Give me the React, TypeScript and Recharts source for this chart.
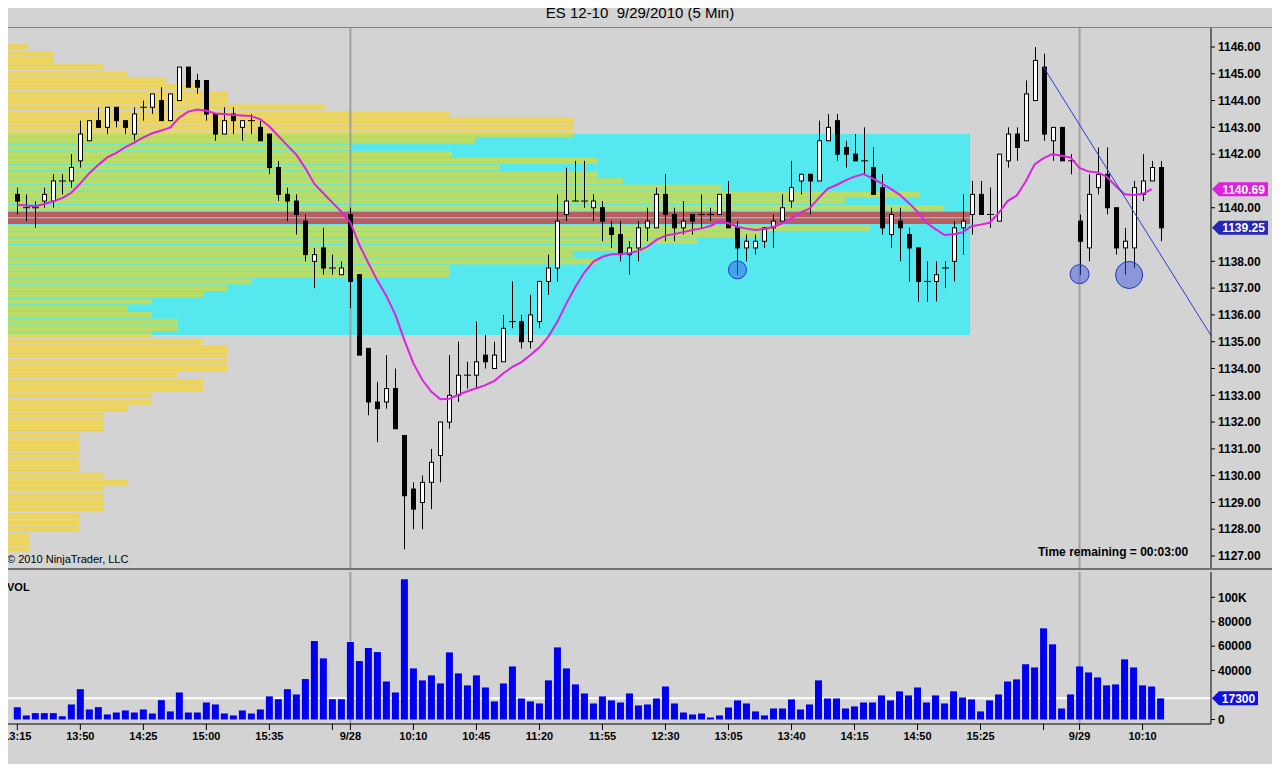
import React from 'react';
import {
  ComposedChart,
  Bar,
  Line,
  XAxis,
  YAxis,
  ReferenceArea,
  ReferenceLine,
  ReferenceDot,
} from 'recharts';

// ES 12-10, 5 min bars: 9/27 13:15 .. 9/29 10:20 (bar index 0..127)
const opens = [
  1140.5, 1140, 1140, 1140.25, 1140.25, 1141, 1141, 1141.75, 1142.5, 1143.25,
  1143, 1143.75, 1143.25, 1142.75, 1143.75, 1143.75, 1144, 1143.25, 1144, 1145.25,
  1144.75, 1144.75, 1143.5, 1142.75, 1143.5, 1143, 1143.25, 1143, 1142.75, 1141.5,
  1140.5, 1140.25, 1139.5, 1138, 1138.5, 1137.75, 1137.5, 1139.75, 1137.5, 1134.75,
  1132.75, 1132.75, 1133.25, 1131.5, 1129.5, 1129, 1129.75, 1130.75, 1132, 1133,
  1133.75, 1133.75, 1134.5, 1134, 1134.25, 1135.75, 1135.75, 1135, 1135.75, 1137.25,
  1137.75, 1139.75, 1140.25, 1140.25, 1140, 1140, 1139.25, 1139, 1138.25, 1138.5,
  1139.25, 1139.25, 1140.5, 1139.75, 1139.25, 1139.75, 1139.75, 1139.75, 1139.75, 1140.5,
  1139.25, 1138.5, 1138.5, 1138.75, 1139.25, 1139.5, 1140.25, 1141, 1141.25, 1141,
  1142.5, 1143.25, 1142.25, 1142, 1141.75, 1141.5, 1140.75, 1139, 1139.5, 1139,
  1138.5, 1137.25, 1137.25, 1137.75, 1138, 1139.25, 1139.75, 1140.5, 1139.75, 1139.5,
  1141.75, 1142.75, 1142.5, 1144, 1145.25, 1142.5, 1143, 1141.75, 1139.5, 1138.5,
  1140.75, 1141.25, 1140, 1138.5, 1138.5, 1140.5, 1141, 1141.5,
];
const highs = [
  1140.75, 1140.5, 1140.25, 1140.75, 1141.25, 1141.25, 1142, 1143.25, 1143.25, 1143.75,
  1143.75, 1143.75, 1143.25, 1143.75, 1144, 1144.25, 1144.5, 1144.25, 1145.25, 1145.25,
  1145, 1144.75, 1143.5, 1143.75, 1143.75, 1143.25, 1143.5, 1143.25, 1142.75, 1141.75,
  1140.75, 1140.5, 1139.75, 1138.5, 1139.25, 1138.25, 1138, 1140, 1137.5, 1134.75,
  1133.5, 1134.5, 1134, 1131.5, 1129.75, 1130, 1131, 1132, 1134.5, 1135,
  1134.25, 1135.75, 1135.25, 1135, 1136, 1137.25, 1136, 1136.75, 1137.25, 1138.25,
  1140.5, 1141.5, 1141.75, 1141.75, 1140.5, 1140.25, 1139.5, 1139.5, 1138.75, 1139.5,
  1140, 1140.75, 1141.25, 1140, 1140.25, 1139.75, 1140.5, 1140, 1140.5, 1141,
  1139.5, 1139, 1139, 1139.25, 1139.75, 1140.5, 1141.75, 1141.25, 1141.25, 1143.25,
  1143.5, 1143.5, 1142.5, 1142.75, 1143, 1142.25, 1141.25, 1140, 1140, 1139.25,
  1138.5, 1138, 1138, 1138, 1139.5, 1140.5, 1141, 1141, 1140.75, 1142,
  1143, 1143, 1144.75, 1146, 1145.75, 1143, 1143, 1142, 1139.75, 1141.25,
  1142.25, 1142.25, 1140, 1139.25, 1141, 1142, 1141.75, 1141.75,
];
const lows = [
  1139.75, 1139.5, 1139.25, 1140, 1140, 1140.5, 1140.75, 1141.5, 1142.5, 1143,
  1142.75, 1143, 1142.75, 1142.5, 1143.25, 1143.5, 1143.25, 1143.25, 1144, 1144.5,
  1144.25, 1143.25, 1142.5, 1142.75, 1142.75, 1142.5, 1142.75, 1142.5, 1141.25, 1140.25,
  1139.5, 1139, 1138, 1137, 1137.5, 1137.5, 1137.5, 1136.25, 1134.5, 1132.25,
  1131.25, 1132.5, 1131.75, 1127.25, 1128, 1128, 1128.75, 1129.75, 1131.75, 1132.75,
  1133.25, 1133.25, 1134, 1134, 1134.25, 1135.5, 1134.75, 1134.75, 1135.5, 1136.75,
  1137.25, 1139.5, 1140.25, 1140, 1139.5, 1138.75, 1138.5, 1138, 1137.5, 1138,
  1138.75, 1139.25, 1138.75, 1138.75, 1139, 1139, 1139.25, 1139.5, 1139.75, 1139.25,
  1137.5, 1138, 1138.25, 1138.5, 1138.5, 1139.5, 1140, 1140.5, 1139.75, 1141,
  1142.5, 1141.75, 1141.5, 1141.75, 1141.25, 1140.5, 1139, 1138.5, 1138, 1137.25,
  1136.5, 1136.5, 1136.5, 1137, 1137.25, 1138.25, 1139, 1139.75, 1139.25, 1139.5,
  1141.5, 1141.75, 1142.5, 1144, 1142.5, 1141.75, 1141.75, 1141.25, 1137.5, 1138,
  1140.5, 1139.75, 1138.25, 1137.5, 1137.75, 1140.25, 1141, 1138.75,
];
const closes = [
  1140.25, 1140, 1140, 1140.5, 1141, 1141, 1141.5, 1142.75, 1143.25, 1143,
  1143.75, 1143.25, 1143, 1143.5, 1143.75, 1144.25, 1143.25, 1144.25, 1145.25, 1144.5,
  1144.5, 1143.5, 1142.75, 1143.25, 1143.25, 1143.25, 1143.25, 1142.5, 1141.5, 1140.5,
  1140.25, 1139.75, 1138.25, 1138.25, 1137.75, 1137.75, 1137.75, 1137.25, 1134.5, 1132.75,
  1132.5, 1133.25, 1131.75, 1129.25, 1128.75, 1129.75, 1130.5, 1132, 1133, 1133.75,
  1133.75, 1134.25, 1134.25, 1134.5, 1135.5, 1135.75, 1135, 1136, 1137.25, 1137.75,
  1139.5, 1140.25, 1140.25, 1140.25, 1140.25, 1139.5, 1139, 1138.25, 1138.5, 1139.25,
  1139.5, 1140.5, 1139.75, 1139.25, 1139.5, 1139.5, 1139.75, 1139.75, 1140.5, 1139.25,
  1138.5, 1138.75, 1138.75, 1139.25, 1139.5, 1140, 1140.75, 1141.25, 1141, 1142.5,
  1143, 1142, 1142, 1141.75, 1141.75, 1140.5, 1139.25, 1139.75, 1139.25, 1138.5,
  1137.25, 1137.25, 1137.5, 1137.75, 1139.25, 1139.5, 1140.5, 1139.75, 1139.75, 1142,
  1142.75, 1142.25, 1144.25, 1145.5, 1142.75, 1143, 1141.75, 1141.75, 1138.75, 1140.5,
  1141.25, 1140, 1138.5, 1138.75, 1140.75, 1141, 1141.5, 1139.25,
];
const volumes = [
  10100, 3300, 5200, 5200, 5200, 2700, 12300, 24800, 8200, 10100,
  4100, 5700, 7400, 5700, 8200, 4900, 15800, 6600, 22100, 5700,
  5700, 13900, 12300, 4900, 3300, 7400, 4900, 8200, 18900, 16600,
  24800, 20500, 33100, 64200, 50000, 16600, 16600, 63400, 47800, 58500,
  55200, 31100, 22100, 114800, 41800, 32000, 36100, 29500, 54900, 37700,
  27900, 36100, 26200, 14800, 29500, 43400, 17200, 14800, 13100, 32000,
  59000, 41800, 28700, 21300, 13100, 18900, 15600, 13900, 21300, 11500,
  12300, 17200, 27000, 13100, 5700, 4100, 4900, 1600, 3300, 9800,
  15600, 13100, 6600, 3300, 9000, 9000, 16400, 8200, 12300, 32000,
  17200, 17200, 9000, 10700, 13900, 13900, 19700, 15600, 23000, 19700,
  26200, 13900, 19700, 13100, 23000, 18000, 16400, 6600, 15600, 20500,
  31100, 32800, 45100, 42600, 74600, 61500, 9000, 20500, 43400, 38500,
  34400, 27900, 28700, 49200, 42600, 27900, 27000, 17300,
];
// magenta moving average as drawn (the open bar has no value yet)
const average = [
  1140.11, 1140.08, 1140.06, 1140.14, 1140.24, 1140.36, 1140.56, 1140.91, 1141.29, 1141.6,
  1141.88, 1142.05, 1142.26, 1142.43, 1142.63, 1142.78, 1142.88, 1143.0, 1143.37, 1143.59,
  1143.67, 1143.62, 1143.52, 1143.5, 1143.46, 1143.44, 1143.42, 1143.3, 1143.03, 1142.68,
  1142.32, 1141.98, 1141.47, 1140.89, 1140.54, 1140.19, 1139.85, 1139.45, 1138.61, 1137.93,
  1137.28, 1136.71, 1136.0, 1135.06, 1134.19, 1133.57, 1133.13, 1132.85, 1132.87, 1133.02,
  1133.15, 1133.26, 1133.38, 1133.54, 1133.82, 1134.06, 1134.24, 1134.5, 1134.79, 1135.19,
  1135.75, 1136.43, 1137.05, 1137.59, 1137.99, 1138.17, 1138.26, 1138.27, 1138.3, 1138.39,
  1138.55, 1138.8, 1138.96, 1139.02, 1139.09, 1139.17, 1139.23, 1139.32, 1139.5, 1139.42,
  1139.29, 1139.22, 1139.17, 1139.21, 1139.29, 1139.42, 1139.61, 1139.82, 1139.97, 1140.35,
  1140.71, 1140.85, 1141.02, 1141.16, 1141.26, 1141.1, 1140.91, 1140.71, 1140.49, 1140.19,
  1139.85, 1139.44, 1139.2, 1138.98, 1139.01, 1139.08, 1139.31, 1139.37, 1139.44, 1139.8,
  1140.25, 1140.45, 1140.97, 1141.62, 1141.85, 1142.0, 1141.94, 1141.87, 1141.49, 1141.35,
  1141.32, 1141.16, 1140.82, 1140.5, 1140.48, 1140.52, 1140.69, null,
];

const timeTicks = [0, 7, 14, 21, 28, 35, 37, 44, 51, 58, 65, 72, 79, 86, 93, 100, 107, 114, 118, 125];
const timeLabels = [
  '13:15', '13:50', '14:25', '15:00', '15:35', '', '9/28', '10:10', '10:45', '11:20',
  '11:55', '12:30', '13:05', '13:40', '14:15', '14:50', '15:25', '', '9/29', '10:10',
];
const sessionStarts = [37, 118];

// 1141 and 1139 sit under the value tags
const priceTicks = [
  1127, 1128, 1129, 1130, 1131, 1132, 1133, 1134, 1135, 1136,
  1137, 1138, 1140, 1142, 1143, 1144, 1145, 1146,
];
const volumeTicks = [0, 40000, 60000, 80000, 100000];

// volume at price, one row per tick (hundreds of contracts)
const profileLevels = [
  1146, 1145.75, 1145.5, 1145.25, 1145, 1144.75, 1144.5, 1144.25, 1144, 1143.75,
  1143.5, 1143.25, 1143, 1142.75, 1142.5, 1142.25, 1142, 1141.75, 1141.5, 1141.25,
  1141, 1140.75, 1140.5, 1140.25, 1140, 1139.75, 1139.5, 1139.25, 1139, 1138.75,
  1138.5, 1138.25, 1138, 1137.75, 1137.5, 1137.25, 1137, 1136.75, 1136.5, 1136.25,
  1136, 1135.75, 1135.5, 1135.25, 1135, 1134.75, 1134.5, 1134.25, 1134, 1133.75,
  1133.5, 1133.25, 1133, 1132.75, 1132.5, 1132.25, 1132, 1131.75, 1131.5, 1131.25,
  1131, 1130.75, 1130.5, 1130.25, 1130, 1129.75, 1129.5, 1129.25, 1129, 1128.75,
  1128.5, 1128.25, 1128, 1127.75, 1127.5, 1127.25,
];
const profileVolume = [
  23, 49, 49, 98, 123, 160, 195, 223, 223, 320,
  445, 569, 569, 569, 470, 347, 447, 593, 495, 593,
  618, 717, 915, 840, 938, 965, 965, 865, 755, 693,
  643, 568, 592, 445, 445, 247, 222, 198, 147, 123,
  147, 173, 173, 147, 198, 222, 222, 222, 222, 173,
  198, 198, 147, 147, 123, 99, 99, 99, 74, 74,
  74, 74, 74, 74, 99, 123, 99, 99, 99, 99,
  74, 74, 74, 24, 24, 24,
];
const pocLevels = [1139.75, 1139.5];
const valueAreaHigh = 1142.75;
const valueAreaLow = 1135.25;
const valueAreaBars = [-1.37, 105.85];

const trendLine = [
  { x: 114, y: 1145.25 },
  { x: 132.6, y: 1135.23 },
];
const markerBars = [80, 118, 123.5];
const markerPrices = [1137.68, 1137.52, 1137.49];
const markerSizes = [9, 9.5, 13.5];

const lastAverage = 1140.69;
const lastPrice = 1139.25;
const lastVolume = 17300;

const X_DOMAIN = [-1.59, 132.6];
const PRICE_DOMAIN = [1126.553, 1146.709];
const VOL_DOMAIN = [-3700, 120700];
const PROFILE_DOMAIN = [-2, 1206];

const FONT = '"Liberation Sans", Arial, Helvetica, sans-serif';
const BG = '#D3D3D3';
const valueTick = { fill: '#000', fontSize: 12, fontWeight: 'bold', fontFamily: FONT };

const bars = opens.map((o, i) => ({
  i,
  open: o,
  high: highs[i],
  low: lows[i],
  close: closes[i],
  range: [lows[i], highs[i]],
  avg: average[i],
  vol: volumes[i],
}));

const Candle = (props: any) => {
  const { x, y, width, height, payload } = props;
  if (!payload) return null;
  const top = Math.min(y, y + height);
  const bottom = Math.max(y, y + height);
  const span = payload.high - payload.low;
  const toY = (v: number) => (span > 0 ? top + ((payload.high - v) / span) * (bottom - top) : top);
  const cx = Math.round(x + width / 2) + 0.5;
  const yo = toY(payload.open);
  const yc = toY(payload.close);
  const up = payload.close >= payload.open;
  const bodyTop = Math.min(yo, yc);
  const bodyH = Math.abs(yc - yo);
  return (
    <g>
      <line x1={cx} x2={cx} y1={top} y2={bottom} stroke="#000" strokeWidth={1} />
      {bodyH < 1 ? (
        <line x1={cx - 3.5} x2={cx + 3.5} y1={yo} y2={yo} stroke="#000" strokeWidth={1} />
      ) : (
        <rect x={cx - 2} y={bodyTop} width={4} height={bodyH} fill={up ? '#fff' : '#000'} stroke="#000" strokeWidth={1} />
      )}
    </g>
  );
};

const TimeTick = (props: any) => {
  const { x, y, payload } = props;
  const label = timeLabels[timeTicks.indexOf(payload.value)] ?? '';
  if (!label) return null;
  return (
    <text
      x={x}
      y={y}
      dy="0.71em"
      textAnchor="middle"
      fill="#000"
      fontSize={11}
      fontWeight="bold"
      fontFamily={FONT}
    >
      {label}
    </text>
  );
};

// value tag on the right axis
const AxisTag = ({ viewBox, text, fill, w }: any) => {
  if (!viewBox) return null;
  const x0 = viewBox.x + viewBox.width;
  const yy = viewBox.y;
  return (
    <g>
      <polygon
        points={`${x0 + 1},${yy} ${x0 + 8},${yy - 7} ${x0 + w},${yy - 7} ${x0 + w},${yy + 7} ${x0 + 8},${yy + 7}`}
        fill={fill}
      />
      <text
        x={x0 + 8 + (w - 8) / 2}
        y={yy}
        dy="0.36em"
        textAnchor="middle"
        fill="#fff"
        fontSize={12}
        fontWeight="bold"
        fontFamily={FONT}
      >
        {text}
      </text>
    </g>
  );
};

const rule = (top: number, left: number, width: number, height: number, color: string) => (
  <div style={{ position: 'absolute', top, left, width, height, background: color }} />
);

export default function App() {
  return (
    <div
      style={{
        position: 'relative',
        width: 1280,
        height: 772,
        margin: -8,
        background: BG,
        overflow: 'hidden',
        fontFamily: FONT,
      }}
    >
      <div
        style={{
          position: 'absolute',
          top: 4,
          left: 0,
          width: 1280,
          textAlign: 'center',
          fontSize: 15,
          lineHeight: '17px',
          whiteSpace: 'pre',
          color: '#000',
        }}
      >
        {'ES 12-10  9/29/2010 (5 Min)'}
      </div>

      {/* price panel */}
      <div style={{ position: 'absolute', top: 0, left: 0 }}>
        <ComposedChart width={1280} height={572} data={bars} margin={{ top: 28, right: 0, bottom: 4, left: 3 }}>
          <XAxis xAxisId="t" type="number" dataKey="i" domain={X_DOMAIN} allowDataOverflow hide />
          <XAxis xAxisId="prof" type="number" dataKey="i" domain={PROFILE_DOMAIN} allowDataOverflow hide />
          <YAxis
            yAxisId="p"
            orientation="right"
            type="number"
            domain={PRICE_DOMAIN}
            allowDataOverflow
            ticks={priceTicks}
            interval={0}
            width={69}
            tickFormatter={(v: number) => v.toFixed(2)}
            tick={valueTick}
            tickSize={4}
            tickMargin={3}
            axisLine={{ stroke: '#000' }}
            tickLine={{ stroke: '#000' }}
          />
          <ReferenceArea
            xAxisId="t"
            yAxisId="p"
            x1={valueAreaBars[0]}
            x2={valueAreaBars[1]}
            y1={valueAreaLow}
            y2={valueAreaHigh}
            fill="#55E9EF"
            fillOpacity={1}
            stroke="none"
          />
          {profileLevels.map((p, k) => (
            <ReferenceArea
              key={`pr-${k}`}
              xAxisId="prof"
              yAxisId="p"
              x1={0}
              x2={profileVolume[k]}
              y1={p - 0.105}
              y2={p + 0.105}
              fill={pocLevels.includes(p) ? '#FF0000' : '#FFD60A'}
              fillOpacity={0.6}
              stroke="none"
            />
          ))}
          {sessionStarts.map((s) => (
            <ReferenceArea
              key={`s-${s}`}
              xAxisId="t"
              yAxisId="p"
              x1={s - 0.11}
              x2={s + 0.11}
              y1={PRICE_DOMAIN[0]}
              y2={PRICE_DOMAIN[1]}
              fill="#A0A0A0"
              fillOpacity={1}
              stroke="none"
            />
          ))}
          <Bar xAxisId="t" yAxisId="p" dataKey="range" barSize={7} shape={<Candle />} isAnimationActive={false} />
          <Line
            xAxisId="t"
            yAxisId="p"
            type="linear"
            dataKey="avg"
            stroke="#E020E0"
            strokeWidth={2}
            dot={false}
            activeDot={false}
            isAnimationActive={false}
          />
          <ReferenceLine
            xAxisId="t"
            yAxisId="p"
            segment={trendLine}
            stroke="#2B3BD6"
            strokeWidth={1}
            ifOverflow="visible"
          />
          {markerBars.map((b, k) => (
            <ReferenceDot
              key={`m-${k}`}
              xAxisId="t"
              yAxisId="p"
              x={b}
              y={markerPrices[k]}
              r={markerSizes[k]}
              fill="#3050E0"
              fillOpacity={0.45}
              stroke="#2236C8"
              strokeWidth={1}
            />
          ))}
          <ReferenceLine
            yAxisId="p"
            xAxisId="t"
            y={lastAverage}
            stroke="none"
            label={(p: any) => <AxisTag {...p} text={lastAverage.toFixed(2)} fill="#E020E0" w={57} />}
          />
          <ReferenceLine
            yAxisId="p"
            xAxisId="t"
            y={lastPrice}
            stroke="none"
            label={(p: any) => <AxisTag {...p} text={lastPrice.toFixed(2)} fill="#2626B8" w={57} />}
          />
        </ComposedChart>
      </div>

      {/* volume panel */}
      <div style={{ position: 'absolute', top: 569, left: 0 }}>
        <ComposedChart width={1280} height={203} data={bars} margin={{ top: 3, right: 0, bottom: 20, left: 3 }}>
          <XAxis
            xAxisId="t"
            type="number"
            dataKey="i"
            domain={X_DOMAIN}
            allowDataOverflow
            ticks={timeTicks}
            interval={0}
            height={28}
            tickSize={6}
            tickMargin={2}
            tick={<TimeTick />}
            axisLine={{ stroke: '#000' }}
            tickLine={{ stroke: '#000' }}
          />
          <YAxis
            yAxisId="v"
            orientation="right"
            type="number"
            domain={VOL_DOMAIN}
            allowDataOverflow
            ticks={volumeTicks}
            interval={0}
            width={69}
            tickFormatter={(v: number) => (v === 100000 ? '100K' : String(v))}
            tick={valueTick}
            tickSize={4}
            tickMargin={3}
            axisLine={{ stroke: '#000' }}
            tickLine={{ stroke: '#000' }}
          />
          {sessionStarts.map((s) => (
            <ReferenceArea
              key={`vs-${s}`}
              xAxisId="t"
              yAxisId="v"
              x1={s - 0.11}
              x2={s + 0.11}
              y1={VOL_DOMAIN[0]}
              y2={VOL_DOMAIN[1]}
              fill="#A0A0A0"
              fillOpacity={1}
              stroke="none"
            />
          ))}
          <ReferenceArea
            xAxisId="t"
            yAxisId="v"
            x1={X_DOMAIN[0]}
            x2={X_DOMAIN[1]}
            y1={lastVolume - 800}
            y2={lastVolume + 800}
            fill="#FFFFFF"
            fillOpacity={1}
            stroke="none"
          />
          <Bar xAxisId="t" yAxisId="v" dataKey="vol" barSize={7} fill="#0000F0" isAnimationActive={false} />
          <ReferenceLine
            xAxisId="t"
            yAxisId="v"
            y={lastVolume}
            stroke="none"
            label={(p: any) => <AxisTag {...p} text={String(lastVolume)} fill="#1010E0" w={47} />}
          />
        </ComposedChart>
      </div>

      {/* frame */}
      {rule(27, 0, 1276, 1, '#808080')}
      {rule(27, 0, 1, 725, '#808080')}
      {rule(568, 3, 1273, 2, '#707070')}
      {rule(27, 1275, 1, 725, '#808080')}

      <div style={{ position: 'absolute', left: 7, top: 553, fontSize: 11, lineHeight: '13px', color: '#000' }}>
        © 2010 NinjaTrader, LLC
      </div>
      <div
        style={{ position: 'absolute', left: 1038, top: 545, fontSize: 12, lineHeight: '14px', fontWeight: 'bold', color: '#000' }}
      >
        Time remaining = 00:03:00
      </div>
      <div
        style={{ position: 'absolute', left: 7, top: 581, fontSize: 11, lineHeight: '13px', fontWeight: 'bold', color: '#000' }}
      >
        VOL
      </div>
    </div>
  );
}
